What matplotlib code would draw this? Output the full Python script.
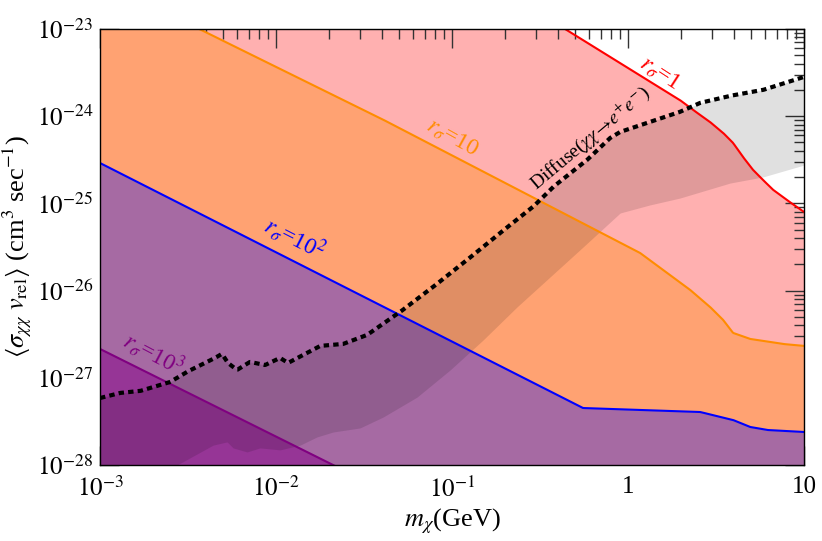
import numpy as np
import matplotlib
matplotlib.use("Agg")
import matplotlib.pyplot as plt
from matplotlib.ticker import FixedLocator, LogLocator, NullFormatter

plt.rcParams["font.family"] = "serif"
plt.rcParams["font.serif"] = ["Liberation Serif", "DejaVu Serif"]
plt.rcParams["mathtext.fontset"] = "stix"

# r_sigma = 1 bound
m_r1 = [1e-3, 0.438, 1.97, 2.34, 2.92, 3.47, 3.95, 4.50, 5.13, 5.85, 6.67, 8.0, 10.0]
sv_r1 = [5.3e-21, 1e-23, 1.53e-24, 1.18e-24, 8.58e-25, 6.42e-25, 4.93e-25, 3.40e-25,
         2.42e-25, 1.85e-25, 1.43e-25, 1.09e-25, 7.96e-26]
# r_sigma = 10 bound
m_r10 = [1e-3, 3.65e-3, 0.039, 1.17, 2.25, 2.92, 3.47, 3.95, 4.93, 7.6, 10.0]
sv_r10 = [3.65e-23, 1e-23, 9.5e-25, 2.7e-26, 1.02e-26, 6.5e-27, 4.6e-27, 3.27e-27,
          2.79e-27, 2.44e-27, 2.32e-27]
# r_sigma = 10^2 bound
m_r100 = [1e-3, 0.555, 2.57, 3.95, 4.93, 6.16, 10.0]
sv_r100 = [2.9e-25, 4.5e-28, 4.05e-28, 3.28e-28, 2.73e-28, 2.52e-28, 2.39e-28]
# r_sigma = 10^3 bound
m_r1000 = [1e-3, 0.0211, 0.05]
sv_r1000 = [2.14e-27, 1e-28, 4.2e-29]

# diffuse gamma-ray bound (chi chi -> e+ e-)
m_diff = [0.001, 0.0013, 0.00169, 0.00219, 0.0025, 0.00312, 0.00406, 0.0045, 0.00493,
          0.00533, 0.0060, 0.00711, 0.00866, 0.01054, 0.0117, 0.0142, 0.0178, 0.0240,
          0.0329, 0.0507, 0.078, 0.1216, 0.1875, 0.288, 0.375, 0.585, 0.791, 0.902,
          1.333, 1.97, 2.57, 3.80, 5.85, 10.0]
sv_diff = [5.86e-28, 6.7e-28, 7.06e-28, 8.26e-28, 8.95e-28, 1.17e-27, 1.52e-27, 1.69e-27,
           1.88e-27, 1.48e-27, 1.23e-27, 1.52e-27, 1.40e-27, 1.69e-27, 1.48e-27, 1.82e-27,
           2.32e-27, 2.44e-27, 3.10e-27, 5.69e-27, 1.10e-26, 2.24e-26, 4.58e-26, 9.10e-26,
           1.54e-25, 3.15e-25, 5.62e-25, 6.59e-25, 8.58e-25, 1.12e-24, 1.42e-24, 1.71e-24,
           2.0e-24, 2.82e-24]
# lower edge of the grey band
m_band = [0.001, 0.00192, 0.00274, 0.00439, 0.00527, 0.0057, 0.00684, 0.0081, 0.01054,
          0.0137, 0.0171, 0.0211, 0.030, 0.0406, 0.0632, 0.0975, 0.150, 0.234, 0.360,
          0.555, 0.902, 1.333, 1.97, 3.80, 5.85, 10.0]
sv_band = [3.97e-29, 7.7e-29, 1e-28, 1.69e-28, 1.84e-28, 1.57e-28, 1.41e-28, 1.57e-28,
           1.49e-28, 1.69e-28, 2.1e-28, 2.39e-28, 2.66e-28, 3.55e-28, 6.0e-28, 1.23e-27,
           2.71e-27, 6.5e-27, 1.43e-26, 3.16e-26, 7.76e-26, 9.6e-26, 1.15e-25, 1.71e-25,
           2.01e-25, 2.75e-25]

xtick_vals = [1e-3, 1e-2, 1e-1, 1, 10]
xtick_labels = [r"$10^{-3}$", r"$10^{-2}$", r"$10^{-1}$", "1", "10"]
ytick_vals = [1e-28, 1e-27, 1e-26, 1e-25, 1e-24, 1e-23]
ytick_labels = [r"$10^{-28}$", r"$10^{-27}$", r"$10^{-26}$", r"$10^{-25}$", r"$10^{-24}$", r"$10^{-23}$"]

# interpolate everything on one log grid so fills line up
mm = np.logspace(-3, 1, 800)
def loginterp(xs, ys):
    return 10**np.interp(np.log10(mm), np.log10(xs), np.log10(ys))

r1 = loginterp(m_r1, sv_r1)
r10 = loginterp(m_r10, sv_r10)
r100 = loginterp(m_r100, sv_r100)
r1000 = loginterp(m_r1000, sv_r1000)
diff = loginterp(m_diff, sv_diff)
band = loginterp(m_band, sv_band)

fig = plt.figure(figsize=(8.22, 5.41), dpi=100)
ax = fig.add_axes([0.1217, 0.1405, 0.8565, 0.806])
floor = 1e-30
ax.fill_between(mm, floor, r1, color="#ffb0b0", lw=0, zorder=1)
ax.fill_between(mm, floor, r10, color="#ffa272", lw=0, zorder=2)
ax.fill_between(mm, floor, r100, color="#a66aa3", lw=0, zorder=3)
ax.fill_between(mm, floor, r1000, color="#963596", lw=0, zorder=4)
ax.fill_between(mm, band, diff, color="black", alpha=0.12, lw=0, zorder=5)

ax.plot(mm, r1, color="red", lw=1.5, zorder=6)
ax.plot(mm, r10, color="#ff8c00", lw=1.5, zorder=6)
ax.plot(mm, r100, color="blue", lw=1.5, zorder=6)
ax.plot(mm, r1000, color="purple", lw=1.5, zorder=6)
ax.plot(mm, diff, color="black", lw=3.0, ls=(0, (1.3, 1.0)), zorder=7)

ax.set_xscale("log")
ax.set_yscale("log")
ax.set_xlim(1e-3, 10)
ax.set_ylim(1e-28, 1e-23)

ax.xaxis.set_major_locator(FixedLocator(xtick_vals))
ax.set_xticklabels(xtick_labels)
ax.xaxis.set_minor_locator(LogLocator(base=10, subs=np.arange(2, 10)))
ax.xaxis.set_minor_formatter(NullFormatter())
ax.yaxis.set_major_locator(FixedLocator(ytick_vals))
ax.set_yticklabels(ytick_labels)
ax.yaxis.set_minor_locator(LogLocator(base=10, subs=np.arange(2, 10), numticks=20))
ax.yaxis.set_minor_formatter(NullFormatter())
ax.tick_params(which="both", direction="in", top=True, right=True, labelsize=18, width=1.0, color="#333333")
ax.tick_params(which="major", length=14)
ax.tick_params(which="minor", length=7)
ax.tick_params(axis="x", which="major", pad=8)
ax.tick_params(axis="y", which="major", pad=5)
for sp in ax.spines.values():
    sp.set_linewidth(1.0)
    sp.set_zorder(10)

ax.set_xlabel(r"$m_\chi$(GeV)", fontsize=19, labelpad=4)
ax.set_ylabel(r"$\langle\sigma_{\chi\chi}\ v_{\rm rel}\rangle$ (cm$^3$ sec$^{-1}$)", fontsize=19, labelpad=2)

ax.text(1.52, 3.1e-24, r"$r_\sigma$=1", color="red", fontsize=17, rotation=-33,
        ha="center", va="center", zorder=8)
ax.text(0.1, 5.6e-25, r"$r_\sigma$=10", color="#ff8c00", fontsize=17, rotation=-29,
        ha="center", va="center", zorder=8)
ax.text(0.0128, 4.0e-26, r"$r_\sigma$=10$^2$", color="blue", fontsize=17, rotation=-27,
        ha="center", va="center", zorder=8)
ax.text(0.002, 1.9e-27, r"$r_\sigma$=10$^3$", color="purple", fontsize=17, rotation=-28,
        ha="center", va="center", zorder=8)
ax.text(0.61, 5.6e-25, r"Diffuse($\chi\chi\!\rightarrow\! e^{+}e^{-}$)", color="black",
        fontsize=14, rotation=40, ha="center", va="center", zorder=8)

fig.savefig("out.png", dpi=100)
